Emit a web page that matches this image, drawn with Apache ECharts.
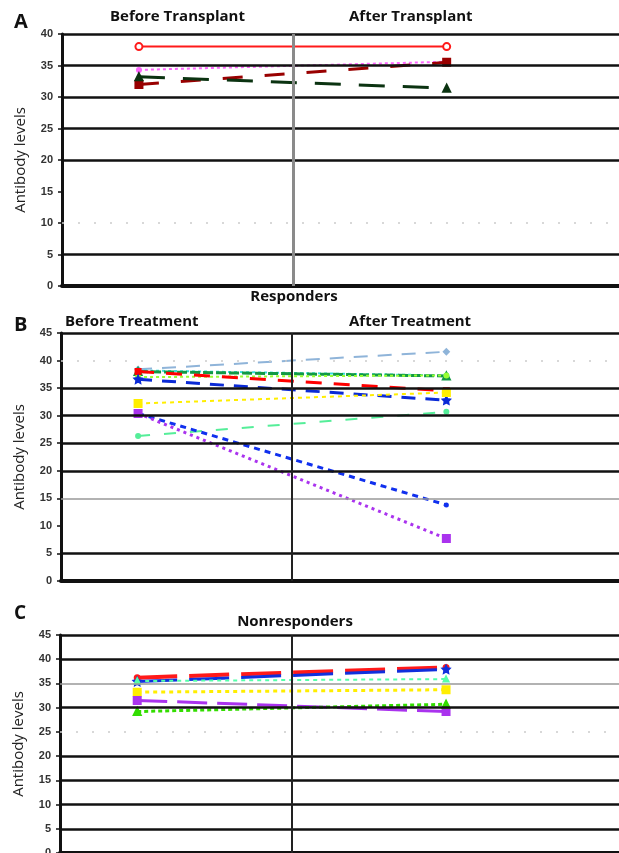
<!DOCTYPE html>
<html>
<head>
<meta charset="utf-8">
<title>Antibody levels</title>
<script src="https://cdn.jsdelivr.net/npm/echarts@6/dist/echarts.min.js"></script>
<style>
  html, body { margin: 0; padding: 0; background: #fff; }
  #main { width: 619px; height: 853px; }
</style>
</head>
<body>
<div id="main"></div>
<script>
// time points (before / after) and the divider between them
const timePoints = [1, 2]
const dividerX = 1.5

// A: before / after transplant
const beforeA = [38.0, 34.3, 32.0, 33.2]
const afterA = [38.0, 35.6, 35.5, 31.4]

// B: responders, before / after treatment
const beforeB = [38.4, 38.2, 38.0, 37.0, 38.0, 36.6, 32.2, 26.3, 30.4, 30.4]
const afterB = [41.6, 37.3, 37.2, 37.3, 34.5, 32.8, 34.2, 30.7, 13.8, 7.7]

// C: nonresponders
const beforeC = [36.2, 35.4, 35.5, 33.2, 31.5, 29.2]
const afterC = [38.3, 37.9, 35.9, 33.7, 29.2, 30.7]

// y axis ticks
const yMaxA = 40
const yMaxBC = 45
const yStep = 5

// horizontal rule levels per panel
const thickA = [5, 20, 25, 30, 35, 40]
const dottedA = [10]
const thickB = [5, 20, 25, 30, 35, 45]
const greyB = [15]
const dottedB = [40]
const thickC = [5, 10, 15, 20, 30, 40, 45]
const greyC = [35]
const dottedC = [25]

const STAR = 'path://M0,-10L2.9,-4L9.5,-3.1L4.7,1.5L5.9,8.1L0,5L-5.9,8.1L-4.7,1.5L-9.5,-3.1L-2.9,-4Z'

// line styles (colour, dash, width, marker)
const styleA = [
  { color: '#ff1a1a', type: 'solid', width: 2, symbol: 'emptyCircle', size: 7 },
  { color: '#ff66ff', type: [3, 3], width: 2, symbol: 'circle', size: 4 },
  { color: '#990000', type: [20, 22], width: 3, symbol: 'rect', size: 7 },
  { color: '#0b3311', type: [26, 18], width: 3, symbol: 'triangle', size: 7 }
]
const styleB = [
  { color: '#8fb4d9', type: [14, 10], width: 2, symbol: 'diamond', size: 5 },
  { color: '#33dddd', type: [3, 3], width: 2, symbol: 'circle', size: 4 },
  { color: '#119944', type: [10, 3], width: 3, symbol: 'triangle', size: 7 },
  { color: '#99ff33', type: [3, 3], width: 2, symbol: 'circle', size: 4 },
  { color: '#ff0000', type: [16, 12], width: 3, symbol: 'rect', size: 5 },
  { color: '#0a2ad6', type: [14, 10], width: 3, symbol: STAR, size: 7 },
  { color: '#ffee00', type: [4, 4], width: 2, symbol: 'rect', size: 7 },
  { color: '#55ee99', type: [12, 14], width: 2, symbol: 'circle', size: 4 },
  { color: '#1030ee', type: [6, 5], width: 3, symbol: 'circle', size: 3 },
  { color: '#aa33ee', type: [3, 4], width: 3, symbol: 'rect', size: 7 }
]
const styleC = [
  { color: '#ff1a1a', type: [40, 12], width: 4, symbol: 'circle', size: 5 },
  { color: '#1030dd', type: [40, 12], width: 3, symbol: STAR, size: 7 },
  { color: '#55ffaa', type: [4, 4], width: 2, symbol: 'triangle', size: 5 },
  { color: '#ffee00', type: [4, 4], width: 3, symbol: 'rect', size: 7 },
  { color: '#aa33ee', type: [30, 10], width: 3, symbol: 'rect', size: 7 },
  { color: '#33dd00', type: [4, 3], width: 3, symbol: 'triangle', size: 7 }
]

const chart = echarts.init(document.getElementById('main'))

function rules(grid, thick, grey, dotted, dividerColor, dividerWidth) {
  const data = []
  thick.forEach(v => data.push({ yAxis: v, lineStyle: { color: '#111', width: 2.5, type: 'solid' } }))
  grey.forEach(v => data.push({ yAxis: v, lineStyle: { color: '#999', width: 1.5, type: 'solid' } }))
  dotted.forEach(v => data.push({ yAxis: v, lineStyle: { color: '#ccc', width: 1.5, type: [2, 14] } }))
  data.push({ xAxis: dividerX, lineStyle: { color: dividerColor, width: dividerWidth, type: 'solid' } })
  return {
    type: 'line',
    xAxisIndex: grid,
    yAxisIndex: grid,
    data: [],
    z: 1,
    silent: true,
    markLine: {
      silent: true,
      symbol: 'none',
      animation: false,
      label: { show: false },
      data: data
    }
  }
}

function lines(grid, before, after, styles) {
  return before.map((b, i) => ({
    type: 'line',
    xAxisIndex: grid,
    yAxisIndex: grid,
    z: 3,
    symbol: styles[i].symbol,
    symbolSize: styles[i].size,
    showSymbol: true,
    animation: false,
    itemStyle: { color: styles[i].color, borderColor: styles[i].color, borderWidth: 2 },
    lineStyle: { color: styles[i].color, type: styles[i].type, width: styles[i].width },
    data: [[timePoints[0], b], [timePoints[1], after[i]]]
  }))
}

function yAxis(grid, max) {
  return {
    type: 'value',
    gridIndex: grid,
    min: 0,
    max: max,
    interval: yStep,
    name: 'Antibody levels',
    nameLocation: 'middle',
    nameGap: 34,
    nameTextStyle: { fontFamily: 'Open Sans', fontSize: 15, color: '#222' },
    axisLine: { show: true, lineStyle: { color: '#111', width: 3 } },
    axisTick: { show: true, length: 4, lineStyle: { color: '#111', width: 1.5 } },
    axisLabel: { margin: 9, fontFamily: 'Liberation Sans', fontWeight: 'bold', fontSize: 11, color: '#333' },
    splitLine: { show: false }
  }
}

function xAxis(grid, lineWidth) {
  return {
    type: 'value',
    gridIndex: grid,
    min: 0.75,
    max: 2.56,
    axisLine: { show: true, onZero: false, lineStyle: { color: '#111', width: lineWidth } },
    axisTick: { show: false },
    axisLabel: { show: false },
    splitLine: { show: false }
  }
}

function label(text, x, y, size, align) {
  return {
    type: 'text',
    x: x,
    y: y,
    style: {
      text: text,
      fill: '#111',
      font: 'bold ' + size + 'px "Open Sans"',
      textAlign: align || 'left',
      textVerticalAlign: 'middle'
    }
  }
}

chart.setOption({
  backgroundColor: '#fff',
  animation: false,
  grid: [
    { left: 62, right: 0, top: 34, bottom: 567, outerBoundsMode: 'none' },
    { left: 61, right: 0, top: 333, bottom: 272, outerBoundsMode: 'none' },
    { left: 60, right: 0, top: 635, bottom: 0, outerBoundsMode: 'none' }
  ],
  xAxis: [xAxis(0, 4), xAxis(1, 4), xAxis(2, 4)],
  yAxis: [yAxis(0, yMaxA), yAxis(1, yMaxBC), yAxis(2, yMaxBC)],
  graphic: [
    label('A', 14, 22, 20),
    label('Before Transplant', 110, 17, 15),
    label('After Transplant', 349, 17, 15),
    label('Responders', 294, 297, 15, 'center'),
    label('B', 14, 325, 20),
    label('Before Treatment', 65, 322, 15),
    label('After Treatment', 349, 322, 15),
    label('C', 14, 614, 19),
    label('Nonresponders', 295, 622, 15, 'center')
  ],
  series: [
    rules(0, thickA, [], dottedA, '#8a8a8a', 3),
    rules(1, thickB, greyB, dottedB, '#222', 2),
    rules(2, thickC, greyC, dottedC, '#222', 2)
  ].concat(
    lines(0, beforeA, afterA, styleA),
    lines(1, beforeB, afterB, styleB),
    lines(2, beforeC, afterC, styleC)
  )
})
</script>
</body>
</html>
